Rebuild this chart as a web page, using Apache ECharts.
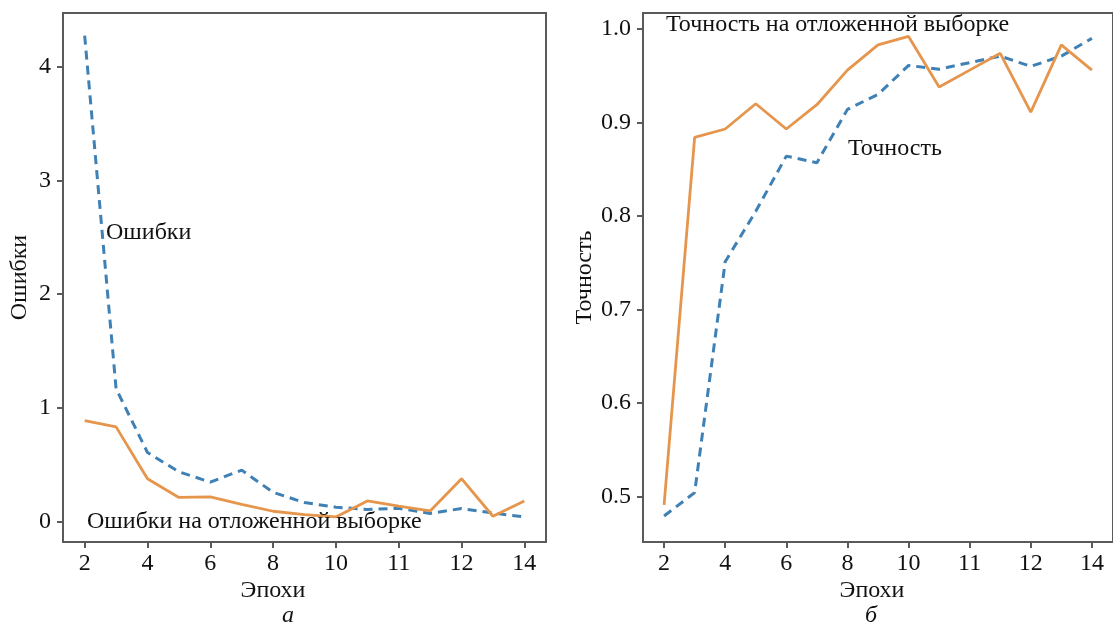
<!DOCTYPE html>
<html><head><meta charset="utf-8">
<script src="https://cdn.jsdelivr.net/npm/echarts@6/dist/echarts.min.js"></script>
<style>html,body{margin:0;padding:0;background:#fff}#c{width:1113px;height:628px}</style>
</head><body><div id="c"></div>
<script>
// x tick labels (shown at every second data position)
const xTickLabels = ['2','4','6','8','10','11','12','14'];
// left panel: errors
const lossTrain = [4.27, 1.17, 0.61, 0.44, 0.35, 0.455, 0.26, 0.17, 0.13, 0.11, 0.12, 0.075, 0.118, 0.078, 0.044];
const lossVal   = [0.89, 0.835, 0.38, 0.215, 0.22, 0.155, 0.094, 0.065, 0.044, 0.185, 0.138, 0.097, 0.38, 0.05, 0.185];
// right panel: accuracy
const accTrain = [0.479, 0.504, 0.751, 0.805, 0.864, 0.857, 0.914, 0.930, 0.961, 0.957, 0.964, 0.971, 0.960, 0.971, 0.990];
const accVal   = [0.491, 0.884, 0.893, 0.920, 0.893, 0.919, 0.956, 0.983, 0.992, 0.938, 0.956, 0.974, 0.911, 0.983, 0.956];
const lossTicks = [0, 1, 2, 3, 4];
const accTicks = [0.5, 0.6, 0.7, 0.8, 0.9, 1.0];

const FONT = '"Liberation Serif", "Times New Roman", serif';
const BLUE = '#3f80b5';
const ORANGE = '#e6954d';
const AX = '#5a5a5a';
const FS = 24;

const xPos = xTickLabels.flatMap((_, i) => i < xTickLabels.length - 1 ? [2*i, 2*i+1] : [2*i]);
const toPairs = arr => arr.map((v, i) => [xPos[i], v]);

function xAxis(gi) {
  return {
    type: 'value', gridIndex: gi, min: -0.69, max: 14.69,
    axisLine: { show: true, onZero: false, lineStyle: { color: AX, width: 2 } },
    axisTick: { show: true, inside: false, length: 6, lineStyle: { color: AX, width: 2 },
      customValues: xTickLabels.map((_, i) => 2*i) },
    axisLabel: { margin: 10, fontFamily: FONT, fontSize: FS, color: '#111',
      customValues: xTickLabels.map((_, i) => 2*i),
      formatter: v => xTickLabels[Math.round(v/2)] },
    splitLine: { show: false }
  };
}
function yAxis(gi, min, max, ticks, fmt, name, gap) {
  return {
    type: 'value', gridIndex: gi, min, max,
    name, nameLocation: 'middle', nameGap: gap, nameRotate: 90,
    nameTextStyle: { fontFamily: FONT, fontSize: FS, color: '#111' },
    axisLine: { show: true, onZero: false, lineStyle: { color: AX, width: 2 } },
    axisTick: { show: true, length: 6, lineStyle: { color: AX, width: 2 }, customValues: ticks },
    axisLabel: { margin: 12, fontFamily: FONT, fontSize: FS, color: '#111', customValues: ticks, formatter: fmt },
    splitLine: { show: false }
  };
}
const dashed = { color: BLUE, width: 3, type: [9, 6] };
const solid = { color: ORANGE, width: 2.8 };
function line(gi, data, style) {
  return { type: 'line', xAxisIndex: gi, yAxisIndex: gi, data: toPairs(data), showSymbol: false,
    symbol: 'none', lineStyle: style, itemStyle: { color: style.color }, animation: false };
}
function txt(x, y, s, extra) {
  return { type: 'text', x, y, z: 100, style: Object.assign({ text: s, fontFamily: FONT, fontSize: FS, fill: '#111',
    textAlign: 'left', textVerticalAlign: 'middle' }, extra || {}) };
}

const chart = echarts.init(document.getElementById('c'), null, { renderer: 'canvas' });
chart.setOption({
  animation: false,
  backgroundColor: '#fff',
  grid: [
    { left: 63, top: 13, width: 483, height: 529, show: true, borderColor: AX, borderWidth: 2, backgroundColor: '#fff' },
    { left: 643, top: 13, width: 483, height: 529, show: true, borderColor: AX, borderWidth: 2, backgroundColor: '#fff' }
  ],
  xAxis: [xAxis(0), xAxis(1)],
  yAxis: [
    yAxis(0, -0.176, 4.469, lossTicks, v => String(v), 'Ошибки', 31),
    yAxis(1, 0.4512, 1.0171, accTicks, v => v.toFixed(1), 'Точность', 43)
  ],
  series: [
    line(0, lossTrain, dashed),
    line(0, lossVal, solid),
    line(1, accTrain, dashed),
    line(1, accVal, solid)
  ],
  graphic: [
    txt(106, 233, 'Ошибки'),
    txt(87, 522, 'Ошибки на отложенной выборке'),
    txt(666, 25, 'Точность на отложенной выборке'),
    txt(848, 149, 'Точность'),
    txt(273, 591, 'Эпохи', { textAlign: 'center' }),
    txt(288, 616, 'а', { textAlign: 'center', fontStyle: 'italic' }),
    txt(872, 591, 'Эпохи', { textAlign: 'center' }),
    txt(871, 616, 'б', { textAlign: 'center', fontStyle: 'italic' })
  ]
});
</script>
</body></html>
